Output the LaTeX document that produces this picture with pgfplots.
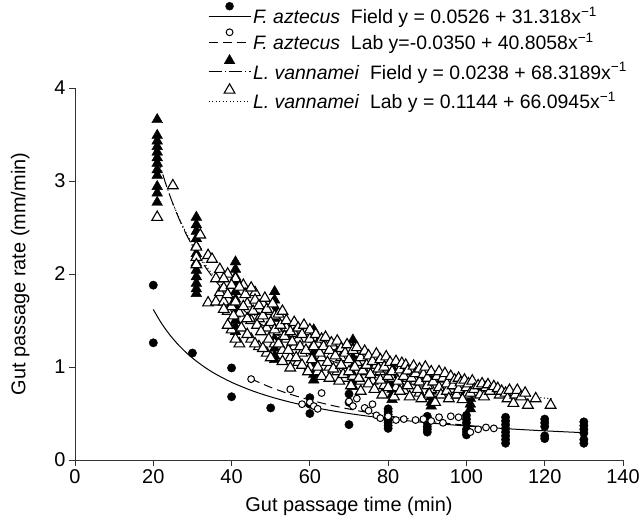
\documentclass[border=0pt]{standalone}
\usepackage{fontspec}
\setmainfont{Liberation Sans}
\usepackage{pgfplots}
\pgfplotsset{compat=1.18}
\begin{document}
\begin{tikzpicture}
\useasboundingbox (-75bp,-56bp) rectangle (566bp,460bp);
\begin{axis}[
 scale only axis, width=548bp, height=372bp,
 xmin=0,xmax=140,ymin=0,ymax=4,
 axis x line*=bottom, axis y line*=left,
 xtick={0,20,...,140}, ytick={0,1,2,3,4},
 tick align=outside, major tick length=6bp,
 axis line style={line width=0.9bp, black!80},
 tick style={line width=0.9bp, black!80},
 ticklabel style={font=\fontsize{20}{23}\selectfont},
 /pgf/number format/assume math mode=true,
 label style={font=\fontsize{20}{23}\selectfont},
 xlabel={Gut passage time (min)}, ylabel={Gut passage rate (mm/min)},
 xlabel style={at={(axis description cs:0.5,-0.124)},anchor=center},
 ylabel style={at={(axis description cs:-0.1,0.5)},anchor=center},
 clip=false,
 legend cell align=left,
 legend style={at={(axis description cs:0.237,1.237)},anchor=north west,draw=none,fill=none,font=\fontsize{19.5}{22}\selectfont, row sep=1bp},
]
\addlegendimage{legend image code/.code={\draw[black,line width=1bp] (0bp,0bp)--(42bp,0bp); \fill[black] (21bp,10bp) circle (4bp);}}
\addlegendentry{\textit{F. aztecus}\ \ Field y = 0.0526 + 31.318x\textsuperscript{−1}}
\addlegendimage{legend image code/.code={\draw[black,line width=1bp,dash pattern=on 9bp off 5bp] (0bp,0bp)--(42bp,0bp); \draw[black,fill=white,line width=1bp] (21bp,10bp) circle (3.4bp);}}
\addlegendentry{\textit{F. aztecus}\ \ Lab y=-0.0350 + 40.8058x\textsuperscript{−1}}
\addlegendimage{legend image code/.code={\draw[black,line width=1bp,dash pattern=on 13bp off 3bp on 1bp off 3bp] (0bp,0bp)--(42bp,0bp); \draw[black,fill=black] plot[only marks, mark=triangle*, mark size=6.2bp] coordinates {(21bp,11bp)};}}
\addlegendentry{\textit{L. vannamei}\ \ Field y = 0.0238 + 68.3189x\textsuperscript{−1}}
\addlegendimage{legend image code/.code={\draw[black,line width=1bp,dash pattern=on 1bp off 2.5bp] (0bp,0bp)--(42bp,0bp); \draw[black,fill=white,line width=1.1bp] plot[only marks, mark=triangle*, mark size=6.2bp] coordinates {(21bp,11bp)};}}
\addlegendentry{\textit{L. vannamei}\ \ Lab y = 0.1144 + 66.0945x\textsuperscript{−1}}

% L. vannamei Field (filled triangles)
\addplot[only marks, mark=triangle*, mark size=6.2bp, black, forget plot] coordinates {
(21,3.66)(21,3.49)(21,3.43)(21,3.37)(21,3.31)(21,3.25)(21,3.19)(21,3.12)(21,3.06)(21,2.94)(21,2.87)(21,2.77)
(31,2.61)(31,2.53)(31,2.46)(31,2.38)(31,2.30)(31,2.22)(31,2.12)(31,2.04)(31,1.97)(31,1.90)(31,1.84)(31,1.79)
(41,2.13)(41,2.05)(41,1.97)(41,1.89)(41,1.81)(41,1.73)(41,1.65)(41,1.57)(41,1.50)(41,1.43)(41,1.38)
(51,1.81)(51,1.72)(51,1.64)(51,1.52)(51,1.40)(51,1.30)(51,1.20)(51,1.12)(51,1.08)
(61,1.40)(61,1.32)(61,1.24)(61,1.16)(61,1.08)(61,1.00)(61,0.92)(61,0.86)
(71,1.29)(71,1.20)(71,1.10)(71,1.00)(71,0.92)(71,0.85)(71,0.79)
(81,1.00)(81,0.90)(81,0.82)(81,0.76)(81,0.70)(81,0.65)
(91,0.85)(91,0.74)(91,0.68)(91,0.62)(91,0.58)
(101,0.75)(101,0.66)(101,0.60)(101,0.55)
};
% L. vannamei Lab (open triangles)
\addplot[only marks, mark=triangle*, mark size=6.2bp, mark options={fill=white,draw=black,line width=1.1bp}, forget plot] coordinates {
(21,2.61)(25,2.95)(31,2.29)(31,2.18)(31,2.10)(32,2.42)(34,2.20)(35,2.16)(36,1.95)(34,1.69)(36,1.70)(37,1.80)(38,1.70)(39,1.60)
(37,2.05)(38,1.85)(39,2.00)(40,1.65)(40,1.40)(41,1.95)(42,1.58)(42,1.25)(43,1.88)(44,1.68)(45,1.30)(45,1.50)(46,1.80)
(47,1.22)(47,1.52)(48,1.68)(49,1.42)(49,1.15)(50,1.60)(51,1.25)(51,1.55)(52,1.38)(53,1.18)(54,1.30)(54,1.42)(55,1.10)
(56,1.36)(56,1.22)(57,1.05)(57,1.30)(58,1.15)(59,1.38)(60,1.00)(61,1.30)(62,1.25)(62,0.95)(63,1.10)(64,1.18)(65,1.00)
(66,1.22)(67,0.95)(67,1.15)(68,1.10)(69,0.88)(70,1.18)(71,0.90)(72,1.05)(73,0.85)(74,0.95)(75,1.05)(76,0.85)(77,1.02)
(78,0.95)(79,0.80)(80,1.00)(81,0.88)(82,0.78)(83,0.92)(84,0.75)(85,0.88)(86,0.95)(87,0.85)(88,0.72)(89,0.82)(90,0.95)
(91,0.76)(92,0.85)(93,0.88)(94,0.72)(95,0.87)(96,0.76)(97,0.80)(98,0.70)(99,0.78)(100,0.70)(101,0.80)(102,0.72)
(38,1.95)(38,1.62)(39,1.78)(39,1.45)
(40,1.88)(40.5,1.55)(41,1.70)(41,1.30)(42,1.86)(42.5,1.42)
(43,1.65)(43.5,1.78)(44,1.35)(44,1.52)
(45,1.85)(45.5,1.60)(46,1.25)(46,1.72)(46.5,1.45)
(47,1.66)(47.5,1.38)(48,1.55)(48,1.20)(48.5,1.74)
(49,1.62)(49.5,1.30)(50,1.48)(50,1.10)(50.5,1.68)(51,1.40)
(52,1.57)(52,1.25)(52.5,1.45)(53,1.06)(53,1.60)(53.5,1.33)
(54,1.50)(54.5,1.18)(55,1.38)(55,0.99)(55.5,1.27)(56,1.48)
(56.5,1.10)(57,1.42)(57.5,1.22)(58,1.02)(58,1.35)(58.5,1.45)
(59,1.18)(59.5,0.95)(60,1.30)(60,1.40)(60.5,1.08)(61,1.22)
(61.5,1.35)(62,1.00)(62.5,1.15)(63,1.30)(63,0.90)(63.5,1.22)
(64,1.32)(64.5,1.05)(65,1.18)(65,0.88)(65.5,1.26)(66,0.98)
(66.5,1.12)(67,1.28)(67.5,0.85)(68,1.20)(68,1.02)(68.5,0.92)
(69,1.15)(69.5,1.24)(70,0.95)(70,1.08)(70.5,0.80)(71,1.18)
(71.5,1.00)(72,1.21)(72.5,0.88)(73,0.74)(73,1.10)(73.5,0.96)
(74,1.17)(74.5,1.02)(75,0.82)(75,1.12)(75.5,0.92)(76,1.06)
(76.5,0.76)(77,1.14)(77.5,0.98)(78,0.86)(78,1.08)(78.5,0.70)
(79,1.00)(79.5,1.11)(80,0.90)(80,0.78)(80.5,1.05)(81,0.95)
(81.5,0.68)(82,1.06)(82.5,0.85)(83,0.97)(83,0.74)(83.5,1.04)
(84,0.90)(84.5,1.02)(85,0.80)(85,0.96)(85.5,0.68)(86,0.88)
(86.5,1.01)(87,0.93)(87.5,0.76)(88,0.98)(88,0.84)(88.5,0.66)
(89,0.92)(89.5,1.00)(90,0.80)(90,0.88)(90.5,0.71)(91,0.95)
(91.5,0.84)(92,0.62)(92.5,0.90)(93,0.78)(93,0.95)(93.5,0.70)
(94,0.88)(94.5,0.93)(95,0.74)(95,0.82)(95.5,0.66)(96,0.90)
(96.5,0.80)(97,0.86)(97.5,0.70)(98,0.88)(98,0.76)(98.5,0.83)
(99,0.65)(99.5,0.86)(100,0.78)(100.5,0.82)(101,0.72)(101.5,0.85)
(102,0.76)(103,0.80)(103.5,0.70)(104,0.82)(104.5,0.68)(105,0.78)(105.5,0.81)
(106,0.74)(107,0.79)(108,0.77)(108.5,0.70)(109,0.74)(110,0.72)(110.5,0.66)
(111,0.75)(112,0.61)(112.5,0.70)(113,0.75)(114,0.68)(115,0.72)(115.7,0.59)(117.7,0.66)(121.5,0.59)
};
% F. aztecus Field (filled circles)
\addplot[only marks, mark=*, mark size=4.2bp, black, forget plot] coordinates {
(20,1.88)(20,1.26)(30,1.15)(40,0.99)(40,0.68)(50,0.56)
(60,0.67)(60,0.60)(60,0.50)(70,0.71)(70,0.62)(70,0.38)
(80,0.55)(80,0.52)(80,0.49)(80,0.46)(80,0.43)(80,0.40)(80,0.37)(80,0.34)
(90,0.47)(90,0.44)(90,0.40)(90,0.36)(90,0.33)(90,0.30)
(100,0.48)(100,0.44)(100,0.40)(100,0.33)(100,0.30)(100,0.27)
(110,0.46)(110,0.42)(110,0.38)(110,0.34)(110,0.30)(110,0.26)(110,0.22)(110,0.18)
(120,0.44)(120,0.40)(120,0.36)(120,0.26)(120,0.23)
(130,0.41)(130,0.37)(130,0.33)(130,0.29)(130,0.22)(130,0.18)
};
% F. aztecus Lab (open circles)
\addplot[only marks, mark=*, mark size=3.4bp, mark options={fill=white,draw=black,line width=1bp}, forget plot] coordinates {
(45,0.87)(55,0.76)(58,0.60)(60,0.62)(61,0.58)(62,0.55)(63,0.72)(70,0.63)(71,0.58)(72,0.66)
(74,0.56)(75,0.53)(76,0.60)(77,0.48)(78,0.45)(80,0.47)(82,0.43)(84,0.44)(87,0.43)(89,0.44)
(91,0.42)(93,0.46)(94,0.40)(96,0.47)(98,0.46)(101,0.30)(103,0.33)(105,0.35)(107,0.34)
};
% fitted curves
\addplot[black, line width=1bp, smooth, no marks, forget plot] coordinates {
(20,1.6185)(22,1.4761)(24,1.3575)(26,1.2571)(28,1.1711)(30,1.0965)(33,1.0016)(36,0.9225)(40,0.8356)(45,0.7486)(50,0.6790)(55,0.6220)(60,0.5746)(65,0.5344)(70,0.5000)(75,0.4702)(80,0.4441)(90,0.4006)(100,0.3658)(110,0.3373)(120,0.3136)(130,0.2935)
};
\addplot[black, line width=1bp, smooth, no marks, dash pattern=on 9bp off 5bp, forget plot] coordinates {
(45,0.8718)(50,0.7811)(55,0.7069)(60,0.6451)(65,0.5928)(70,0.5479)(75,0.5091)(80,0.4751)(85,0.4451)(90,0.4184)(95,0.3945)(100,0.3731)(107,0.3464)
};
\addplot[black, line width=1bp, smooth, no marks, dash pattern=on 13bp off 3bp on 1bp off 3bp, forget plot] coordinates {
(21,3.2771)(23,2.9942)(25,2.7566)(27,2.5541)(29,2.3796)(31,2.2276)(34,2.0332)(37,1.8703)(40,1.7318)(45,1.5420)(50,1.3902)(55,1.2660)(60,1.1624)(65,1.0749)(70,0.9998)(75,0.9347)(80,0.8778)(90,0.7829)(100,0.7070)
};
\addplot[black, line width=1bp, smooth, no marks, dash pattern=on 1bp off 2.5bp, forget plot] coordinates {
(25,2.7582)(27,2.5623)(29,2.3935)(31,2.2465)(34,2.0584)(37,1.9007)(40,1.7668)(45,1.5832)(50,1.4363)(55,1.3161)(60,1.2160)(65,1.1312)(70,1.0586)(75,0.9957)(80,0.9406)(90,0.8488)(100,0.7753)(110,0.7153)(122,0.6562)
};
\end{axis}
\end{tikzpicture}
\end{document}
